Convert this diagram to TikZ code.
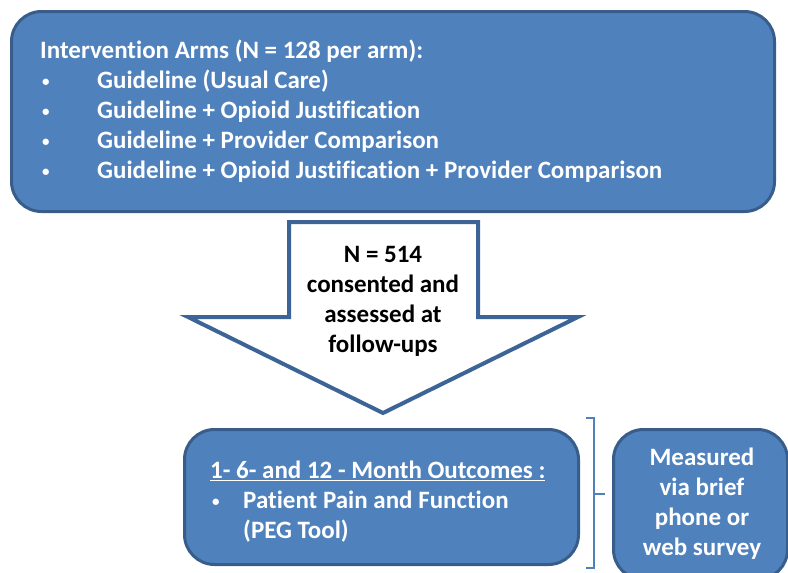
\documentclass[tikz,border=0pt]{standalone}
\usepackage{fontspec}
\setmainfont{Carlito}[Ligatures=CommonOff]
\definecolor{panelfill}{HTML}{4F81BD}
\definecolor{paneledge}{HTML}{385D8A}
\definecolor{arrowedge}{HTML}{3C6496}
\tikzset{
  panel/.style={draw=paneledge, fill=panelfill, line width=3pt, rounded corners=30pt, inner sep=0pt, anchor=north west},
  whitetext/.style={text=white, font=\fontsize{25}{30}\selectfont\bfseries, inner sep=0pt},
  blacktext/.style={text=black, font=\fontsize{25}{30}\selectfont\bfseries, inner sep=0pt, align=center},
}
% small bullet followed by a tab-like gap
\newcommand{\blt}[1]{\makebox[#1][l]{\hspace{2pt}{\fontsize{15}{30}\selectfont\raisebox{2pt}{•}}}}
\begin{document}
\begin{tikzpicture}[x=1pt,y=-1pt]
\useasboundingbox (0,0) rectangle (788,573);
\clip (0,0) rectangle (788,573);

% intervention arms panel
\node (arms) [panel, minimum width=763pt, minimum height=200pt] at (10,10) {};
\node (armstext) [whitetext, align=left, anchor=north west] at (40,40)
  {Intervention Arms (N = 128 per arm):\\
   \blt{57pt}Guideline (Usual Care)\\
   \blt{57pt}Guideline + Opioid Justification\\
   \blt{57pt}Guideline + Provider Comparison\\
   \blt{57pt}Guideline + Opioid Justification + Provider Comparison};

% enrolment arrow
\coordinate (s1) at (289,222);
\coordinate (s2) at (478,222);
\draw[draw=arrowedge, fill=white, line width=4pt, line join=miter]
  (s1) -- (s2) -- (478,317) -- (578,317) -- (383,413) -- (188,317) -- (289,317) -- cycle;
\node (flow) [blacktext] at (383,301)
  {N = 514\\consented and\\assessed at\\follow-ups};

% outcomes panel
\node (outcomes) [panel, minimum width=394pt, minimum height=135pt] at (183,428) {};
\node (outtext) [whitetext, align=left, anchor=north west] at (210,461)
  {\underline{1- 6- and 12 - Month Outcomes :}\\
   \blt{33pt}Patient Pain and Function\\
   \hspace{33pt}(PEG Tool)};

% measurement panel
\node (measure) [panel, minimum width=174pt, minimum height=150pt] at (612,428) {};
\node (meastext) [whitetext, align=center] at (702,504)
  {Measured\\via brief\\phone or\\web survey};

% grouping bracket
\coordinate (btop) at (586,418);
\coordinate (bbot) at (586,568);
\coordinate (btick) at (605,494);
\draw[draw=panelfill, line width=2pt]
  (btop) -- (594,418) -- (594,568) -- (bbot)
  (594,494) -- (btick);
\end{tikzpicture}
\end{document}
